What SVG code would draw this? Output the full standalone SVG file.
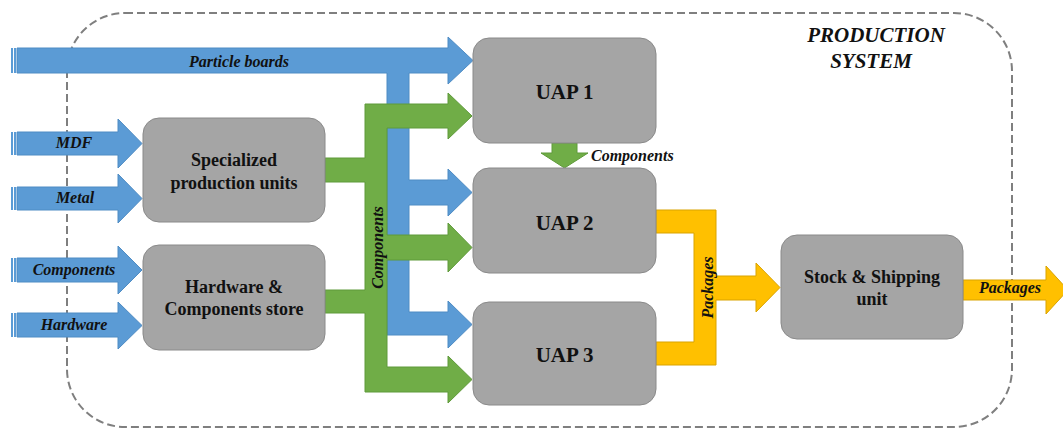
<svg xmlns="http://www.w3.org/2000/svg" width="1063" height="429" viewBox="0 0 1063 429">
<style>
.node{fill:#a5a5a5;stroke:#8a8a8a;stroke-width:1}
.nt{font-family:'Liberation Serif','Times New Roman','DejaVu Serif',serif;font-weight:bold;fill:#111;text-anchor:middle}
.lbl{font-family:'Liberation Serif','Times New Roman','DejaVu Serif',serif;font-weight:bold;font-style:italic;font-size:16px;fill:#111}
.blue{fill:#5b9bd5;stroke:#4f8cc4;stroke-width:1}
.green{fill:#70ad47;stroke:#5f9a3a;stroke-width:1}
.gold{fill:#ffc000;stroke:#d9a300;stroke-width:1}
.stripe{fill:#5b9bd5}
.border{fill:none;stroke:#7f7f7f;stroke-width:2;stroke-dasharray:8 4}
</style>
<rect class="border" x="67" y="13" width="945" height="414" rx="58" ry="58"/>
<text class="lbl" x="876" y="42" text-anchor="middle" font-family="Liberation Serif, serif" style="font-size:21px">PRODUCTION</text>
<text class="lbl" x="871" y="68" text-anchor="middle" font-family="Liberation Serif, serif" style="font-size:21px">SYSTEM</text>
<g id="connectors">
  <g id="in-particle">
    <rect class="stripe" x="11" y="48" width="2" height="25"/><rect class="stripe" x="14" y="48" width="2" height="25"/>
    <path class="blue" d="M17,48 H448 V37 L473,60.5 L448,84 V73 H409 V180 H448 V169 L472,192.5 L448,216 V205 H409 V312 H448 V301 L472,324.5 L448,348 V335 H387 V73 H17 Z"/>
  </g>
  <g id="in-mdf">
    <rect class="stripe" x="11" y="132" width="2" height="23"/><rect class="stripe" x="14" y="132" width="2" height="23"/>
    <path class="blue" d="M17,132 H118 V119 L142,143.5 L118,168 V155 H17 Z"/>
  </g>
  <g id="in-metal">
    <rect class="stripe" x="11" y="187" width="2" height="23"/><rect class="stripe" x="14" y="187" width="2" height="23"/>
    <path class="blue" d="M17,187 H118 V174 L142,198.5 L118,223 V210 H17 Z"/>
  </g>
  <g id="in-components">
    <rect class="stripe" x="11" y="258" width="2" height="24"/><rect class="stripe" x="14" y="258" width="2" height="24"/>
    <path class="blue" d="M17,258 H118 V246 L142,270 L118,294 V282 H17 Z"/>
  </g>
  <g id="in-hardware">
    <rect class="stripe" x="11" y="313" width="2" height="24"/><rect class="stripe" x="14" y="313" width="2" height="24"/>
    <path class="blue" d="M17,313 H118 V302 L142,325.5 L118,349 V337 H17 Z"/>
  </g>
  <path id="components-flow" class="green" d="M365,104 H448 V93 L472,116 L448,139 V128 H387 V235 H448 V223 L472,247.5 L448,272 V260 H387 V367 H448 V356 L472,379.5 L448,403 V392 H365 V313 H325 V290 H365 V182 H325 V158 H365 Z"/>
  <path id="uap1-uap2" class="green" d="M552,143 H577 V153 H588 L564.5,168 L541,153 H552 Z"/>
  <path id="packages-flow" class="gold" d="M656,210 H716 V276 H756 V263 L780,287.5 L756,312 V300 H716 V365 H656 V342 H694 V233 H656 Z"/>
  <path id="packages-out" class="gold" d="M963,280 H1046 V266 L1068,290 L1046,314 V300 H963 Z"/>
  <text class="lbl" x="239" y="67" text-anchor="middle">Particle boards</text>
  <text class="lbl" x="74" y="148" text-anchor="middle">MDF</text>
  <text class="lbl" x="75" y="203" text-anchor="middle">Metal</text>
  <text class="lbl" x="74" y="275" text-anchor="middle">Components</text>
  <text class="lbl" x="74" y="330" text-anchor="middle">Hardware</text>
  <text class="lbl" x="383" y="247.5" text-anchor="middle" transform="rotate(-90 383 247.5)">Components</text>
  <text class="lbl" x="591" y="161">Components</text>
  <text class="lbl" x="713" y="287.5" text-anchor="middle" transform="rotate(-90 713 287.5)">Packages</text>
  <text class="lbl" x="1010" y="293" text-anchor="middle">Packages</text>
</g>
<g id="specialized">
  <rect class="node" x="143" y="118" width="182" height="104" rx="16"/>
  <text class="nt" x="234" y="166" font-size="18">Specialized</text>
  <text class="nt" x="234" y="189" font-size="18">production units</text>
</g>
<g id="hardware-store">
  <rect class="node" x="143" y="245" width="182" height="105" rx="16"/>
  <text class="nt" x="234" y="293" font-size="18">Hardware &amp;</text>
  <text class="nt" x="234" y="315" font-size="18">Components store</text>
</g>
<g id="uap1">
  <rect class="node" x="473" y="38" width="183" height="105" rx="16"/>
  <text class="nt" x="564.5" y="99" font-size="21">UAP 1</text>
</g>
<g id="uap2">
  <rect class="node" x="473" y="168" width="183" height="105" rx="16"/>
  <text class="nt" x="564.5" y="230" font-size="21">UAP 2</text>
</g>
<g id="uap3">
  <rect class="node" x="473" y="302" width="183" height="103" rx="16"/>
  <text class="nt" x="564.5" y="362" font-size="21">UAP 3</text>
</g>
<g id="stock">
  <rect class="node" x="781" y="235" width="182" height="104" rx="16"/>
  <text class="nt" x="872" y="283" font-size="18">Stock &amp; Shipping</text>
  <text class="nt" x="872" y="305" font-size="18">unit</text>
</g>
</svg>
